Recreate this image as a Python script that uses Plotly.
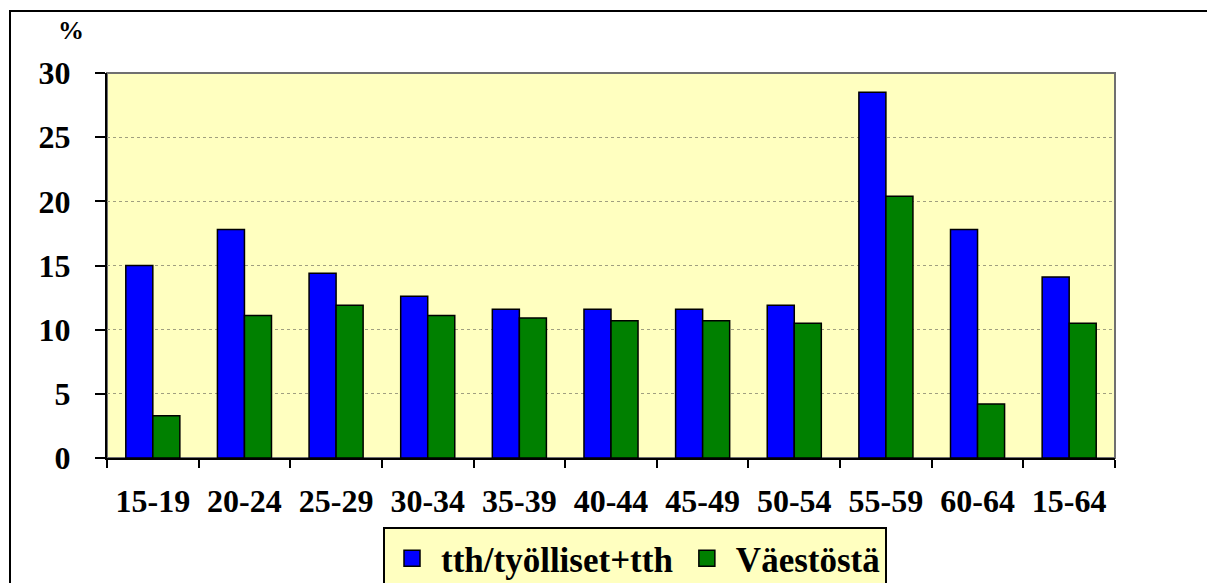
import plotly.graph_objects as go

categories = ["15-19", "20-24", "25-29", "30-34", "35-39", "40-44", "45-49", "50-54", "55-59", "60-64", "15-64"]
tth_share = [15.0, 17.8, 14.4, 12.6, 11.6, 11.6, 11.6, 11.9, 28.5, 17.8, 14.1]
pop_share = [3.3, 11.1, 11.9, 11.1, 10.9, 10.7, 10.7, 10.5, 20.4, 4.2, 10.5]
series_names = ["tth/työlliset+tth", "Väestöstä"]
series_colors = ["#0000FF", "#008000"]
y_ticks = [0, 5, 10, 15, 20, 25, 30]

FONT = "Liberation Serif, Times New Roman, serif"
fig = go.Figure()
for vals, name, col in zip([tth_share, pop_share], series_names, series_colors):
    fig.add_trace(go.Bar(x=categories, y=vals, name=name, showlegend=False, legendgroup=name,
                         marker=dict(color=col, line=dict(color="black", width=1.5))))
# legend entries with larger square keys
for name, col in zip(series_names, series_colors):
    fig.add_trace(go.Scatter(x=[None], y=[None], mode="markers", name="<b>" + name + "</b>",
                             legendgroup=name,
                             marker=dict(symbol="square", size=21, color=col,
                                         line=dict(color="black", width=1.5))))

n = len(categories)
fig.update_layout(
    width=1207, height=583,
    margin=dict(l=107, r=92, t=73, b=125, autoexpand=False),
    paper_bgcolor="white", plot_bgcolor="#FFFFC0",
    barmode="group", bargap=0.41, bargroupgap=0,
    font=dict(family=FONT, color="black"),
    showlegend=True,
    legend=dict(orientation="h", xref="paper", yref="paper",
                x=(635 - 107) / 1008, xanchor="center", y=(458 - 527) / 385, yanchor="top",
                bgcolor="#FFFFC0", bordercolor="black", borderwidth=2,
                font=dict(family=FONT, size=35, color="black"),
                itemsizing="trace", tracegroupgap=0, itemwidth=48),
    xaxis=dict(type="category", tickson="boundaries", ticks="outside", ticklen=8, tickwidth=2,
               tickcolor="black", showline=True, linecolor="black", linewidth=2,
               showgrid=False, range=[-0.5, n - 0.5],
               tickfont=dict(family=FONT, size=32, color="black", weight="bold"),
               ticklabelstandoff=14),
    xaxis2=dict(type="linear", overlaying="x", anchor="y", range=[-0.5, n - 0.5],
                tickvals=[i - 0.5 for i in range(n + 1)], ticks="inside", ticklen=6,
                tickwidth=2, tickcolor="black", showticklabels=False, showgrid=False,
                showline=False, zeroline=False),
    yaxis=dict(range=[0, 30], tickvals=y_ticks, ticks="outside", ticklen=10, tickwidth=2,
               tickcolor="black", showline=True, linecolor="black", linewidth=2,
               showgrid=True, gridcolor="#A09F80", griddash="dot", gridwidth=1,
               zeroline=False,
               tickfont=dict(family=FONT, size=32, color="black", weight="bold"),
               ticklabelstandoff=18),
)

# plot-area border (top / right)
fig.add_shape(type="rect", xref="paper", yref="paper", x0=0, x1=1, y0=0, y1=1,
              line=dict(color="#707070", width=2), layer="below")
# outer chart frame (partly outside the photographed window)
fig.add_shape(type="rect", xref="paper", yref="paper",
              x0=(10 - 107) / 1008, x1=(1230 - 107) / 1008,
              y0=-0.6, y1=(458 - 11) / 385,
              line=dict(color="black", width=2), fillcolor="rgba(0,0,0,0)")

fig.add_annotation(text="<b>%</b>", xref="paper", yref="paper", x=(71 - 107) / 1008, y=(458 - 31) / 385,
                   xanchor="center", yanchor="middle", showarrow=False,
                   font=dict(family=FONT, size=26, color="black"))

fig.write_html("out.html", config={"displayModeBar": False},
               post_script="document.body.style.margin='0';document.body.style.overflow='hidden';")
